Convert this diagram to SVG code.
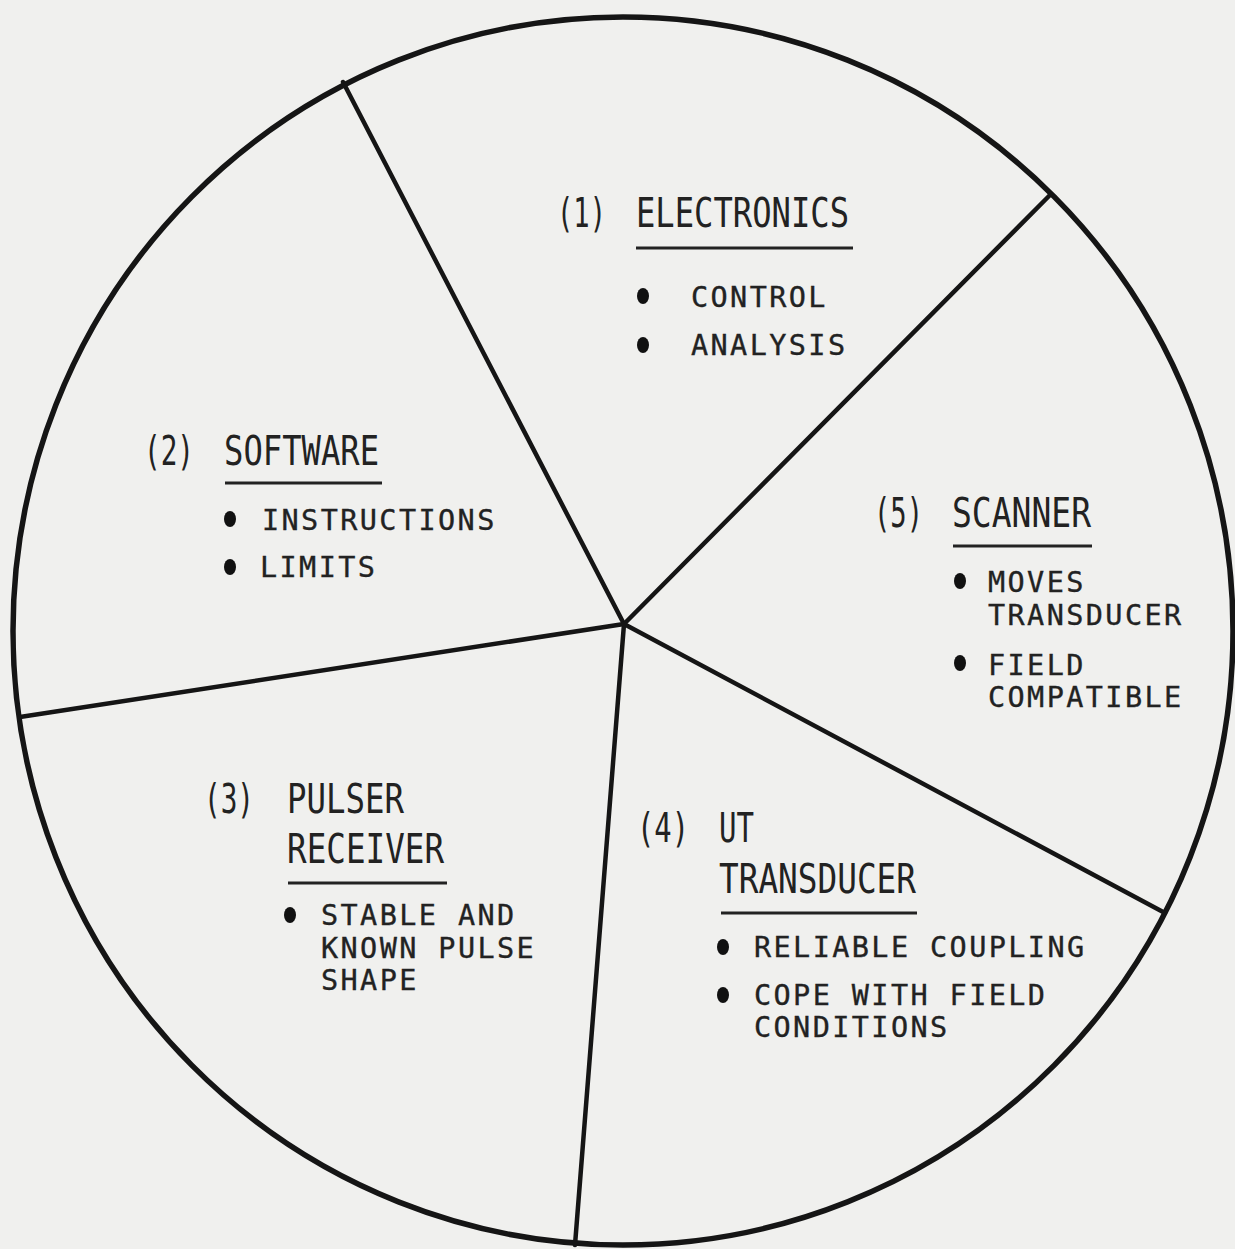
<svg xmlns="http://www.w3.org/2000/svg" width="1235" height="1249" viewBox="0 0 1235 1249">
<style>
.bg{fill:#f0f0ee}
.ln{stroke:#151515;fill:none;stroke-linecap:round}
.ttl{font-family:"DejaVu Sans Mono","Liberation Mono",monospace;font-size:40px;fill:#222}
.txt{font-family:"DejaVu Sans Mono","Liberation Mono",monospace;font-size:28.5px;fill:#222;stroke:#222;stroke-width:0.35;letter-spacing:2.4px}
.ul{stroke:#222;stroke-width:3}
.bul{fill:#111}
</style>
<rect class="bg" x="0" y="0" width="1235" height="1249"/>
<g id="connectors">
<ellipse class="ln" cx="623" cy="631" rx="610" ry="614" stroke-width="5.5"/>
<line class="ln" stroke-width="4.5" x1="624" y1="624" x2="343" y2="82"/>
<line class="ln" stroke-width="4.5" x1="624" y1="624" x2="1050" y2="195"/>
<line class="ln" stroke-width="4.5" x1="624" y1="624" x2="1165" y2="913"/>
<line class="ln" stroke-width="4.5" x1="624" y1="624" x2="575" y2="1245"/>
<line class="ln" stroke-width="4.5" x1="624" y1="624" x2="20" y2="717"/>
</g>
<g id="electronics">
<text class="ttl" x="557" y="227" textLength="49" lengthAdjust="spacingAndGlyphs">(1)</text>
<text class="ttl" x="636" y="227" textLength="213" lengthAdjust="spacingAndGlyphs">ELECTRONICS</text>
<line class="ul" x1="636" y1="248" x2="853" y2="248"/>
<ellipse class="bul" cx="643" cy="296" rx="6" ry="8"/>
<text class="txt" x="691" y="307">CONTROL</text>
<ellipse class="bul" cx="643" cy="345" rx="6" ry="8"/>
<text class="txt" x="691" y="355">ANALYSIS</text>
</g>
<g id="software">
<text class="ttl" x="144" y="465" textLength="50" lengthAdjust="spacingAndGlyphs">(2)</text>
<text class="ttl" x="224" y="465" textLength="155" lengthAdjust="spacingAndGlyphs">SOFTWARE</text>
<line class="ul" x1="225" y1="483" x2="382" y2="483"/>
<ellipse class="bul" cx="230" cy="519" rx="6" ry="8"/>
<text class="txt" x="262" y="530">INSTRUCTIONS</text>
<ellipse class="bul" cx="230" cy="567" rx="6" ry="8"/>
<text class="txt" x="260" y="577">LIMITS</text>
</g>
<g id="scanner">
<text class="ttl" x="874" y="527" textLength="49" lengthAdjust="spacingAndGlyphs">(5)</text>
<text class="ttl" x="952" y="527" textLength="139" lengthAdjust="spacingAndGlyphs">SCANNER</text>
<line class="ul" x1="953" y1="546" x2="1092" y2="546"/>
<ellipse class="bul" cx="960" cy="581" rx="6" ry="8"/>
<text class="txt" x="988" y="592">MOVES</text>
<text class="txt" x="988" y="625">TRANSDUCER</text>
<ellipse class="bul" cx="960" cy="663" rx="6" ry="8"/>
<text class="txt" x="988" y="675">FIELD</text>
<text class="txt" x="988" y="707">COMPATIBLE</text>
</g>
<g id="pulser-receiver">
<text class="ttl" x="204" y="813" textLength="50" lengthAdjust="spacingAndGlyphs">(3)</text>
<text class="ttl" x="287" y="813" textLength="117" lengthAdjust="spacingAndGlyphs">PULSER</text>
<text class="ttl" x="287" y="863" textLength="157" lengthAdjust="spacingAndGlyphs">RECEIVER</text>
<line class="ul" x1="288" y1="883" x2="447" y2="883"/>
<ellipse class="bul" cx="290" cy="915" rx="6" ry="8"/>
<text class="txt" x="321" y="925">STABLE AND</text>
<text class="txt" x="321" y="958">KNOWN PULSE</text>
<text class="txt" x="321" y="990">SHAPE</text>
</g>
<g id="ut-transducer">
<text class="ttl" x="637" y="842" textLength="52" lengthAdjust="spacingAndGlyphs">(4)</text>
<text class="ttl" x="719" y="842" textLength="35" lengthAdjust="spacingAndGlyphs">UT</text>
<text class="ttl" x="719" y="893" textLength="197" lengthAdjust="spacingAndGlyphs">TRANSDUCER</text>
<line class="ul" x1="721" y1="913" x2="917" y2="913"/>
<ellipse class="bul" cx="723" cy="947" rx="6" ry="8"/>
<text class="txt" x="754" y="957">RELIABLE COUPLING</text>
<ellipse class="bul" cx="723" cy="995" rx="6" ry="8"/>
<text class="txt" x="754" y="1005">COPE WITH FIELD</text>
<text class="txt" x="754" y="1037">CONDITIONS</text>
</g>
</svg>
